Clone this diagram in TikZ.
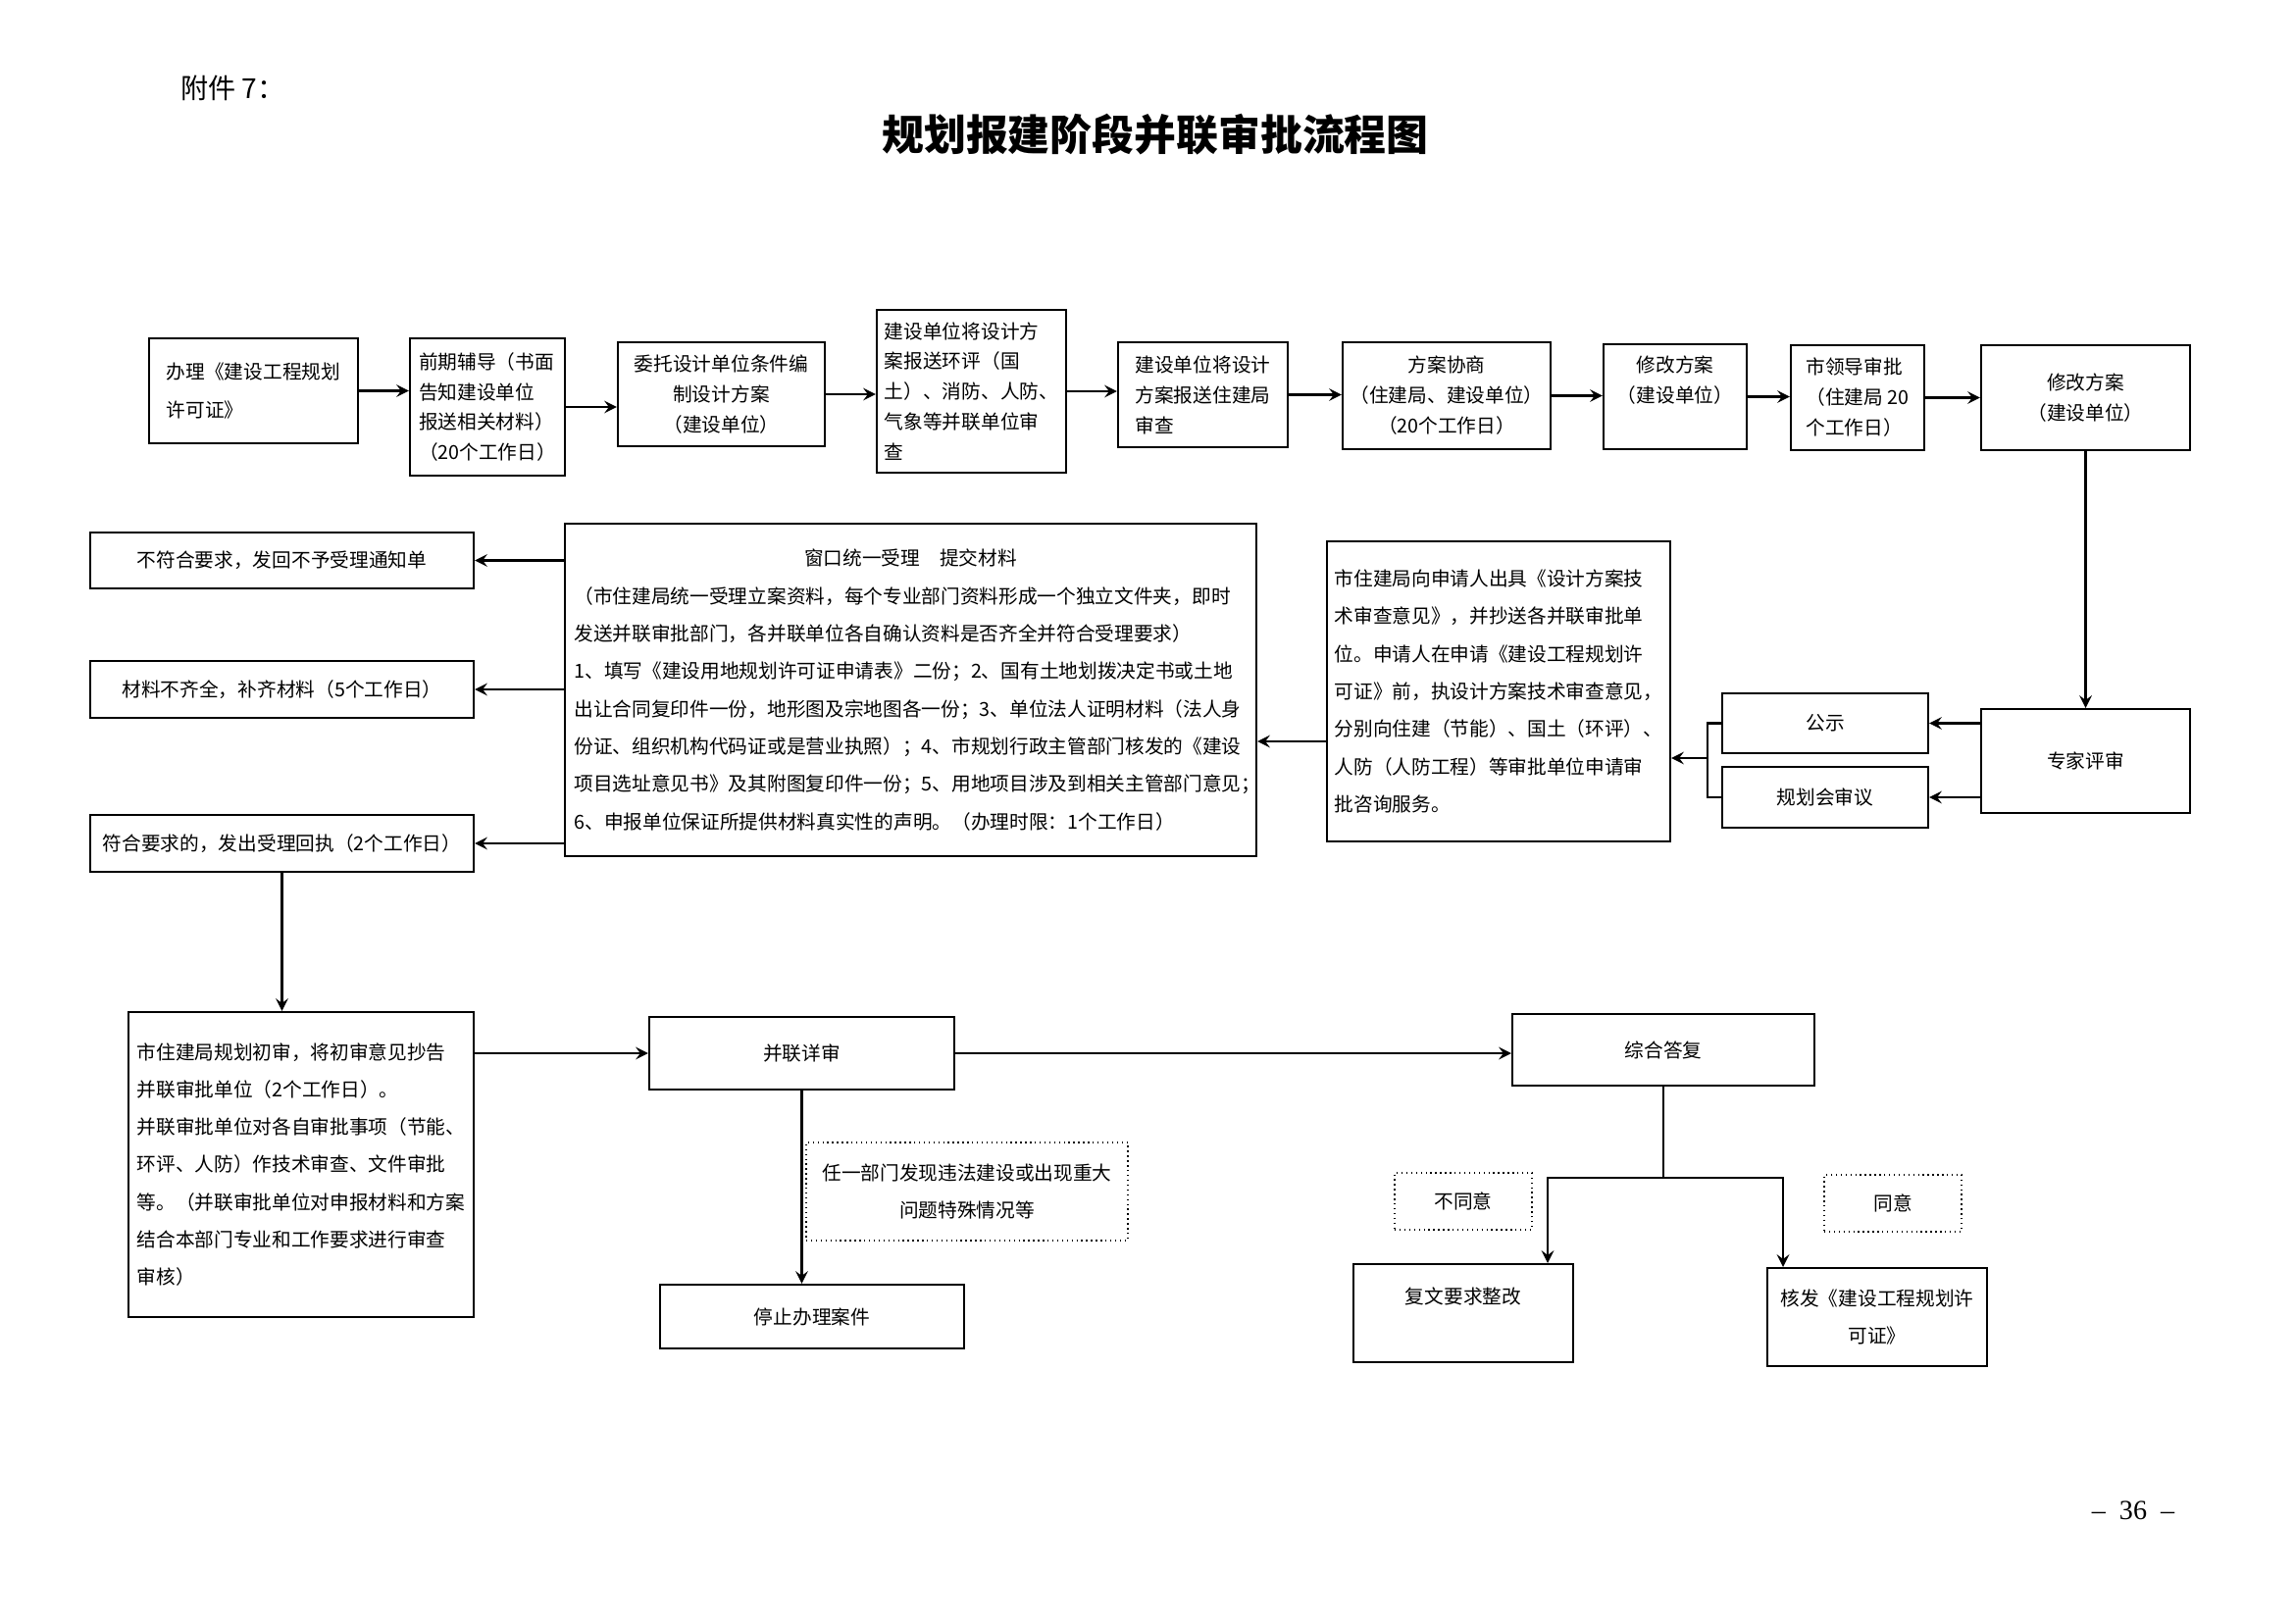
\documentclass[tikz,border=0pt]{standalone}
\usepackage{fontspec}
\setmainfont{Noto Sans CJK SC}
\newfontfamily\pagefont{Liberation Serif}
\usetikzlibrary{arrows}
\tikzstyle{process} = [rectangle, draw=black, semithick, fill=white, inner sep=0.5mm, align=left, font=\fontsize{5.6pt}{10.9pt}\selectfont]
\tikzstyle{stage} = [process, font=\fontsize{5.6pt}{8.8pt}\selectfont]
\tikzstyle{note} = [process, thin, densely dotted, align=center]
\tikzstyle{arrow} = [semithick,->,>=stealth]
\tikzstyle{line} = [semithick]

\begin{document}
\begin{tikzpicture}[x=0.1mm, y=-0.1mm]
        \useasboundingbox (0,0) rectangle (2339,1655);
        \node (attach) [anchor=west, font=\fontsize{8pt}{8pt}\selectfont] at (172,90) {附件 7：};
        \node (title) [font=\fontsize{12.2pt}{12.2pt}\selectfont\bfseries] at (1178,137) {规划报建阶段并联审批流程图};

        % first row
        \node (banli) [process, minimum width=21.3mm, minimum height=10.7mm] at (258.5,398.5) {办理《建设工程规划\\许可证》};
        \node (qianqi) [stage, minimum width=15.8mm, minimum height=14mm] at (497,415) {前期辅导（书面\\告知建设单位\\报送相关材料）\\（20个工作日）};
        \node (weituo) [stage, align=center, minimum width=21.1mm, minimum height=10.6mm] at (735.5,402) {委托设计单位条件编\\制设计方案\\（建设单位）};
        \node (huanping) [stage, minimum width=19.3mm, minimum height=16.6mm] at (990.5,399) {建设单位将设计方\\案报送环评（国\\土）、消防、人防、\\气象等并联单位审\\查};
        \node (songshen) [stage, minimum width=17.3mm, minimum height=10.7mm] at (1226.5,402.5) {建设单位将设计\\方案报送住建局\\审查};
        \node (xieshang) [stage, align=center, minimum width=21.2mm, minimum height=10.9mm] at (1475,403.5) {方案协商\\（住建局、建设单位）\\（20个工作日）};
        \node (xiugai1) [stage, align=center, text depth=3.5mm, minimum width=14.6mm, minimum height=10.7mm] at (1708,404.5) {修改方案\\（建设单位）};
        \node (lingdao) [stage, minimum width=13.6mm, minimum height=10.7mm] at (1894,405.5) {市领导审批\\（住建局 20\\个工作日）};
        \node (xiugai2) [stage, align=center, minimum width=21.3mm, minimum height=10.7mm] at (2126.5,405.5) {修改方案\\（建设单位）};

        % second row
        \node (bufuhe) [process, minimum width=39.1mm, minimum height=5.7mm] at (287.5,571.5) {不符合要求，发回不予受理通知单};
        \node (buqi) [process, minimum width=39.1mm, minimum height=5.8mm] at (287.5,703) {材料不齐全，补齐材料（5个工作日）};
        \node (fuhe) [process, minimum width=39.1mm, minimum height=5.8mm] at (287.5,860) {符合要求的，发出受理回执（2个工作日）};
        \node (chuangkou) [process, text width=68.6mm, minimum width=70.5mm, minimum height=33.9mm] at (928.5,703.5) {\centerline{窗口统一受理\quad 提交材料}\par
（市住建局统一受理立案资料，每个专业部门资料形成一个独立文件夹，即时\\
发送并联审批部门，各并联单位各自确认资料是否齐全并符合受理要求）\\
1、填写《建设用地规划许可证申请表》二份；2、国有土地划拨决定书或土地\\
出让合同复印件一份，地形图及宗地图各一份；3、单位法人证明材料（法人身\\
份证、组织机构代码证或是营业执照）；4、市规划行政主管部门核发的《建设\\
项目选址意见书》及其附图复印件一份；5、用地项目涉及到相关主管部门意见；\\
6、申报单位保证所提供材料真实性的声明。（办理时限：1个工作日）};
        \node (yijian) [process, minimum width=35mm, minimum height=30.6mm] at (1528,705) {市住建局向申请人出具《设计方案技\\术审查意见》，并抄送各并联审批单\\位。申请人在申请《建设工程规划许\\可证》前，执设计方案技术审查意见，\\分别向住建（节能）、国土（环评）、\\人防（人防工程）等审批单位申请审\\批咨询服务。};
        \node (gongshi) [process, align=center, minimum width=21mm, minimum height=6.1mm] at (1861,737.5) {公示};
        \node (guihuahui) [process, align=center, minimum width=21mm, minimum height=6.2mm] at (1861,813) {规划会审议};
        \node (zhuanjia) [process, align=center, minimum width=21.3mm, minimum height=10.6mm] at (2126.5,776) {专家评审};
        \coordinate (merge) at (1741,773);
        \coordinate (back) at (1353,756);

        % third row
        \node (chushen) [process, minimum width=35.2mm, minimum height=31.1mm] at (307,1187.5) {市住建局规划初审，将初审意见抄告\\并联审批单位（2个工作日）。\\并联审批单位对各自审批事项（节能、\\环评、人防）作技术审查、文件审批\\等。（并联审批单位对申报材料和方案\\结合本部门专业和工作要求进行审查\\审核）};
        \node (binglian) [process, align=center, minimum width=31.1mm, minimum height=7.4mm] at (817.5,1074) {并联详审};
        \node (zonghe) [process, align=center, minimum width=30.8mm, minimum height=7.3mm] at (1696,1070.5) {综合答复};
        \node (renyi) [note, minimum width=32.8mm, minimum height=10mm] at (986,1215) {任一部门发现违法建设或出现重大\\问题特殊情况等};
        \node (tingzhi) [process, align=center, minimum width=31mm, minimum height=6.5mm] at (828,1342.5) {停止办理案件};
        \node (butongyi) [note, minimum width=14mm, minimum height=5.8mm] at (1492,1225) {不同意};
        \node (tongyi) [note, minimum width=14mm, minimum height=5.8mm] at (1930,1227) {同意};
        \node (fuwen) [process, align=center, text depth=3.6mm, minimum width=22.4mm, minimum height=10mm] at (1492,1339) {复文要求整改};
        \node (hefa) [process, align=center, minimum width=22.4mm, minimum height=10mm] at (1914,1343) {核发《建设工程规划许\\可证》};
        \coordinate (fork) at (1696,1201);
        \coordinate (forkl) at (1578,1201);
        \coordinate (forkr) at (1818,1201);

        \node (pageno) [font=\pagefont\fontsize{8pt}{8pt}\selectfont] at (2175,1540) {–\enspace 36\enspace –};

        \draw [arrow] (banli) -- (banli -| qianqi.west);
        \draw [arrow] (qianqi) -- (qianqi -| weituo.west);
        \draw [arrow] (weituo) -- (weituo -| huanping.west);
        \draw [arrow] (huanping) -- (huanping -| songshen.west);
        \draw [arrow] (songshen) -- (songshen -| xieshang.west);
        \draw [arrow] (xieshang) -- (xieshang -| xiugai1.west);
        \draw [arrow] (xiugai1) -- (xiugai1 -| lingdao.west);
        \draw [arrow] (lingdao) -- (lingdao -| xiugai2.west);
        \draw [arrow] (xiugai2) -- (zhuanjia);

        \draw [arrow] (zhuanjia.west |- gongshi) -- (gongshi);
        \draw [arrow] (zhuanjia.west |- guihuahui) -- (guihuahui);
        \draw [line] (gongshi.west) -| (merge) |- (guihuahui.west);
        \draw [arrow] (merge) -- (merge -| yijian.east);
        \draw [arrow] (back) -- (back -| chuangkou.east);

        \draw [arrow] (chuangkou.west |- bufuhe) -- (bufuhe);
        \draw [arrow] (chuangkou.west |- buqi) -- (buqi);
        \draw [arrow] (chuangkou.west |- fuhe) -- (fuhe);
        \draw [arrow] (fuhe) -- (fuhe |- chushen.north);

        \draw [arrow] (chushen.east |- binglian) -- (binglian);
        \draw [arrow] (binglian) -- (binglian -| zonghe.west);
        \draw [arrow] (binglian) -- (binglian |- tingzhi.north);
        \draw [line] (zonghe) -- (fork);
        \draw [arrow] (fork) -- (forkl) -- (forkl |- fuwen.north);
        \draw [arrow] (fork) -- (forkr) -- (forkr |- hefa.north);
    \end{tikzpicture}
\end{document}
